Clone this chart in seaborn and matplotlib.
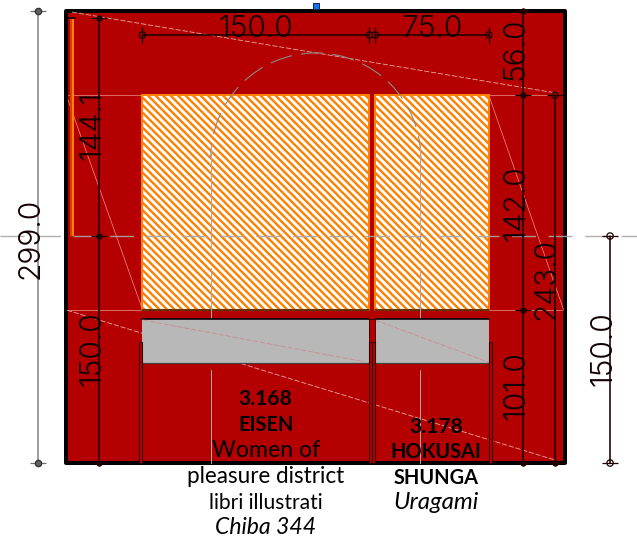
"""
plot.py - gallery wall elevation with dimensions, redrawn with seaborn.
Everything is given in drawing units (1 unit = 1.513 px in the output).
"""

import matplotlib
matplotlib.use("Agg")
import matplotlib.pyplot as plt
from matplotlib.patches import Arc, Rectangle
import pandas as pd
import seaborn as sns

# ── drawing data (units) ──────────────────────────────────────────────────────
WALL_W = 330
WALL_H = 299
CENTER_Y = 150

PANEL_X = [(50.5, 200.5), (204.5, 279.5)]
HATCH_Y = (101, 243)
GRAY_Y = (66, 95)
COLUMNS_X = [(48.5, 50.5), (200.5, 202.5), (202.5, 204.5), (279.5, 281.5)]
COLUMN_TOP = 80

# (x0, y0, x1, y1) for each segment
DIM_GRAY = [(-18.5, 0, -18.5, 299)]
DIM_BLACK = [
    (21.8, 150, 21.8, 294.1),
    (21.8, 0, 21.8, 150),
    (302, 243, 302, 299),
    (302, 101, 302, 243),
    (302, 0, 302, 101),
    (323.2, 0, 323.2, 243),
    (359.6, 0, 359.6, 150),
    (50.5, 282.9, 200.5, 282.9),
    (204.5, 282.9, 279.5, 282.9),
]
THIN_SOLID = [
    (1.3, 243, 50.5, 243),
    (279.5, 243, 328, 243),
    (1.3, 101, 50.5, 101),
    (279.5, 101, 328, 101),
    (1.3, 240, 50.7, 101),
    (279.8, 242, 329, 101),
]
THIN_DASHED = [
    (4, 298, 322.3, 244.8),
    (0.7, 101, 323.2, 2),
]
GRAY_DIAGONALS = [
    (50.9, 94.5, 196.8, 67),
    (204.2, 94.5, 278.9, 66.8),
]
DOOR_JAMBS = [
    (95.9, 140.8, 95.9, 210.2),
    (95.9, 95.8, 95.9, 128.9),
    (95.9, 0, 95.9, 61.5),
    (234.2, 140.8, 234.2, 210.2),
    (234.2, 95.8, 234.2, 128.9),
    (234.2, 0, 234.2, 61.5),
]
ARC_CENTER = (165.1, 201.6)
ARC_RADIUS = 69.4

FILLED_X = [21.8, 21.8, 21.8, 302, 302, 302, 302, 323.2]
FILLED_Y = [294.1, 150, 0, 299, 243, 101, 0, 0]
OPEN_V_X = [50.5, 200.5, 204.5, 279.5]
OPEN_V_Y = [282.9, 282.9, 282.9, 282.9]
OPEN_H_X = [323.2, 359.6, 359.6]
OPEN_H_Y = [243, 150, 0]
GRAY_END_X = [-18.5, -18.5]
GRAY_END_Y = [299, 0]

# label, x, y, rotation
DIM_LABELS = [
    ("299.0", -23.5, 148.5, 90),
    ("144.1", 17.4, 223.5, 90),
    ("150.0", 17.4, 75.5, 90),
    ("150.0", 125.5, 287, 0),
    ("75.0", 242, 287, 0),
    ("56.0", 297.5, 273.5, 90),
    ("142.0", 297.5, 172, 90),
    ("101.0", 297.5, 51, 90),
    ("243.0", 318, 121.5, 90),
    ("150.0", 355.5, 75.5, 90),
]
# text, x, y, size in px, weight, style
CAPTIONS = [
    ("3.168", 132, 42.2, 21, "bold", "normal"),
    ("EISEN", 132, 25.2, 20, "bold", "normal"),
    ("Women of", 132, 8.2, 23, "normal", "normal"),
    ("pleasure district", 132, -9.2, 22.5, "normal", "normal"),
    ("libri illustrati", 132, -26.2, 21, "normal", "normal"),
    ("Chiba 344", 132, -42.8, 23, "normal", "italic"),
    ("3.178", 244.5, 23.7, 21, "bold", "normal"),
    ("HOKUSAI", 244.5, 7.2, 20, "bold", "normal"),
    ("SHUNGA", 244.5, -9.8, 20, "bold", "normal"),
    ("Uragami", 244.5, -26.3, 24, "normal", "italic"),
]

RED = "#b40000"
ORANGE = "#ff8000"
PX = 0.8  # one output pixel in points at dpi 90

# ── helpers ───────────────────────────────────────────────────────────────────
def draw_segments(ax, segments, **kws):
    rows = []
    for idx, (x0, y0, x1, y1) in enumerate(segments):
        rows.append({"seg": idx, "x": x0, "y": y0})
        rows.append({"seg": idx, "x": x1, "y": y1})
    sns.lineplot(
        data=pd.DataFrame(rows), x="x", y="y", units="seg",
        estimator=None, sort=False, legend=False, ax=ax, **kws,
    )


def draw_points(ax, xs, ys, **kws):
    sns.scatterplot(x=xs, y=ys, legend=False, ax=ax, clip_on=False, **kws)


# ── main ──────────────────────────────────────────────────────────────────────
sns.set_theme(style="white")
plt.rcParams["font.family"] = ["Lato", "DejaVu Sans"]
plt.rcParams["hatch.linewidth"] = 1.9

fig = plt.figure(figsize=(637 / 90, 542 / 90), dpi=90, facecolor="white")
ax = fig.add_axes([0, 0, 1, 1])
ax.set_xlim(-43.6, 377.4)
ax.set_ylim(-52.2, 306.0)
ax.set_axis_off()

# wall
ax.add_patch(Rectangle((0, 0), WALL_W, WALL_H, facecolor=RED, edgecolor="black",
                       linewidth=4 * PX, zorder=1, joinstyle="round"))

# thin construction lines
draw_segments(ax, THIN_SOLID, color="#e88a80", linewidth=0.6, zorder=2)
draw_segments(ax, THIN_DASHED, color="#e8a0a0", linewidth=0.7,
              linestyle=(0, (6, 2)), zorder=2)

# hatched panels
for x0, x1 in PANEL_X:
    ax.add_patch(Rectangle((x0, HATCH_Y[0]), x1 - x0, HATCH_Y[1] - HATCH_Y[0],
                           facecolor="white", edgecolor=ORANGE, hatch="\\\\\\\\",
                           linewidth=2 * PX, zorder=3))
    ax.plot([x0, x1], [HATCH_Y[0], HATCH_Y[0]], color="#402000",
            linewidth=1.6 * PX, zorder=4)
    ax.add_patch(Rectangle((x0, GRAY_Y[0]), x1 - x0, GRAY_Y[1] - GRAY_Y[0],
                           facecolor="#b8b8b8", edgecolor="none", zorder=5))
    ax.plot([x0, x1], [GRAY_Y[1], GRAY_Y[1]], color="black", linewidth=1.6 * PX, zorder=6)
    ax.plot([x0, x1], [GRAY_Y[0], GRAY_Y[0]], color="#404040", linewidth=1.2 * PX, zorder=6)

# door outline
ax.add_patch(Arc(ARC_CENTER, 2 * ARC_RADIUS, 2 * ARC_RADIUS, theta1=0, theta2=180,
                 color="#8a8a8a", linewidth=0.9, linestyle=(0, (20, 8)), zorder=4))
draw_segments(ax, DOOR_JAMBS, color="#a8a8a8", linewidth=0.8, zorder=4)

draw_segments(ax, GRAY_DIAGONALS, color="#c89090", linewidth=0.7,
              linestyle=(0, (6, 2)), zorder=6)

# columns under the panels
for x0, x1 in COLUMNS_X:
    ax.add_patch(Rectangle((x0, 0), x1 - x0, COLUMN_TOP, facecolor=RED,
                           edgecolor="#300000", linewidth=1.1 * PX, zorder=6))
ax.add_patch(Rectangle((200.5, COLUMN_TOP), 4, GRAY_Y[1] - COLUMN_TOP, facecolor=RED,
                       edgecolor="#300000", linewidth=0.8 * PX, zorder=6))

# orange strip at left
ax.plot([3.2, 3.2], [150, 294], color="#d84000", linewidth=3 * PX, zorder=3,
        solid_capstyle="butt")
ax.plot([4.9, 4.9], [150, 294], color=ORANGE, linewidth=2 * PX, zorder=3,
        solid_capstyle="butt")
ax.plot([1.3, 6], [294, 294], color="#300000", linewidth=2 * PX, zorder=4)

# centre line
ax.plot([-43.6, 377.4], [CENTER_Y, CENTER_Y], color="#a8a8a8", linewidth=1.4 * PX,
        linestyle=(0, (17.1, 9)), alpha=0.9, zorder=7)

# dimensions
draw_segments(ax, DIM_GRAY, color="#858585", linewidth=1.6 * PX, zorder=8)
draw_segments(ax, DIM_BLACK, color="#1e0000", linewidth=1.6 * PX, zorder=8)
draw_points(ax, FILLED_X, FILLED_Y, marker="_", s=180, color="#1e0000", linewidth=1.0, zorder=9)
draw_points(ax, FILLED_X, FILLED_Y, marker="o", s=26, color="#1e0000", linewidth=0, zorder=9)
draw_points(ax, OPEN_V_X, OPEN_V_Y, marker="|", s=180, color="#1e0000", linewidth=1.0, zorder=9)
draw_points(ax, OPEN_V_X, OPEN_V_Y, marker="o", s=26, facecolor="none", edgecolor="#1e0000",
            linewidth=1.0, zorder=9)
draw_points(ax, OPEN_H_X, OPEN_H_Y, marker="_", s=180, color="#1e0000", linewidth=1.0, zorder=9)
draw_points(ax, OPEN_H_X, OPEN_H_Y, marker="o", s=26, facecolor="none", edgecolor="#1e0000",
            linewidth=1.0, zorder=9)
draw_points(ax, GRAY_END_X, GRAY_END_Y, marker="_", s=180, color="#707070", linewidth=1.0, zorder=9)
draw_points(ax, GRAY_END_X, GRAY_END_Y, marker="o", s=26, facecolor="#606060", edgecolor="#303030",
            linewidth=1.0, zorder=9)

for label, x, y, rot in DIM_LABELS:
    ax.text(x, y, label, rotation=rot, ha="center", va="center", fontsize=30 * PX,
            color="#140000", family=["Inter", "DejaVu Sans"], fontweight=300, zorder=10)

for text, x, y, size, weight, style in CAPTIONS:
    ax.text(x, y, text, ha="center", va="center", fontsize=size * PX, color="black",
            fontweight=weight, fontstyle=style, zorder=10)

# selection handle
draw_points(ax, [165.1], [302.3], marker="s", s=26, color="#0a78f0", edgecolor="#202060",
            linewidth=0.8, zorder=11)

fig.savefig("out.png", dpi=90, facecolor="white")
plt.close(fig)
